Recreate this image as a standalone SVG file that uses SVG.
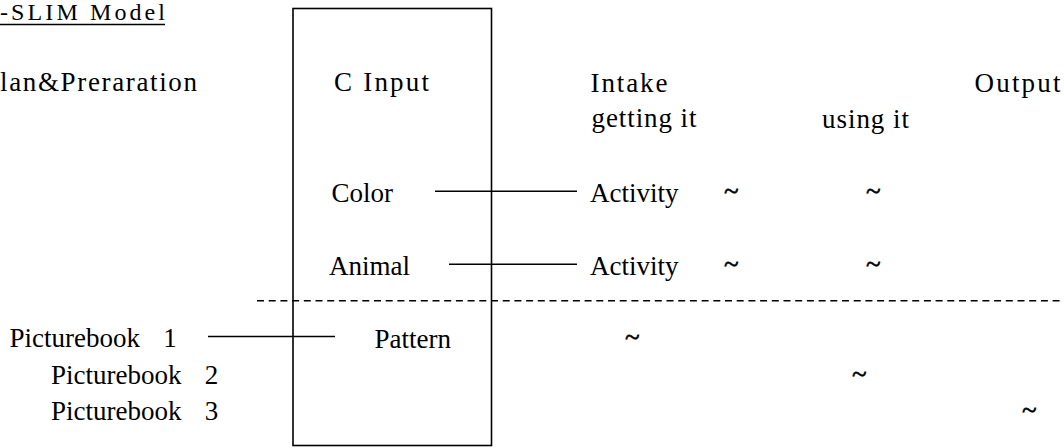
<svg xmlns="http://www.w3.org/2000/svg" width="1064" height="448" viewBox="0 0 1064 448">
<style>
text{font-family:"Liberation Serif","Times New Roman",serif;font-size:27px;fill:#000}
.t{font-size:24px}
.tl{stroke:#000;stroke-width:0.6}
.ln{stroke:#000;stroke-width:1.4;fill:none}
.box{stroke:#000;stroke-width:1.6;fill:none}
.dash{stroke:#000;stroke-width:1.4;stroke-dasharray:7 4.7;fill:none}
</style>
<rect width="1064" height="448" fill="#fff"/>
<g id="title">
<text class="t" x="0" y="20" textLength="165" lengthAdjust="spacing">-SLIM Model</text>
<line class="ln" x1="0" y1="24.5" x2="165" y2="24.5"/>
</g>
<g id="plan">
<text x="0" y="91" textLength="197" lengthAdjust="spacing">lan&amp;Preraration</text>
</g>
<g id="input-box">
<rect class="box" x="293" y="8.5" width="198.5" height="437"/>
<text x="334" y="91" textLength="95" lengthAdjust="spacing">C Input</text>
</g>
<g id="intake">
<text x="590.5" y="92" textLength="77" lengthAdjust="spacing">Intake</text>
<text x="591.5" y="127" textLength="105" lengthAdjust="spacing">getting it</text>
</g>
<g id="using">
<text x="822" y="128" textLength="87" lengthAdjust="spacing">using it</text>
</g>
<g id="output">
<text x="974.5" y="92" textLength="86" lengthAdjust="spacing">Output</text>
</g>
<g id="color"><text x="331.5" y="202">Color</text></g>
<g id="animal"><text x="329" y="275">Animal</text></g>
<g id="pattern"><text x="374.5" y="348">Pattern</text></g>
<g id="activity1"><text x="590" y="202">Activity</text></g>
<g id="activity2"><text x="590" y="275">Activity</text></g>
<g id="pb1"><text x="9.5" y="347">Picturebook <tspan dx="16.5">1</tspan></text></g>
<g id="pb2"><text x="51" y="384">Picturebook <tspan dx="16.5">2</tspan></text></g>
<g id="pb3"><text x="51" y="420">Picturebook <tspan dx="16.5">3</tspan></text></g>
<g id="tildes">
<text class="tl" x="724" y="200">~</text>
<text class="tl" x="866" y="200">~</text>
<text class="tl" x="724" y="273">~</text>
<text class="tl" x="866" y="273">~</text>
<text class="tl" x="625" y="346">~</text>
<text class="tl" x="852" y="383">~</text>
<text class="tl" x="1022" y="419">~</text>
</g>
<g id="connectors">
<line class="ln" x1="435" y1="191.3" x2="577" y2="191.3"/>
<line class="ln" x1="449" y1="264.3" x2="577" y2="264.3"/>
<line class="ln" x1="208" y1="336.5" x2="335" y2="336.5"/>
<line class="dash" x1="257" y1="300.7" x2="1064" y2="300.7"/>
</g>
</svg>
